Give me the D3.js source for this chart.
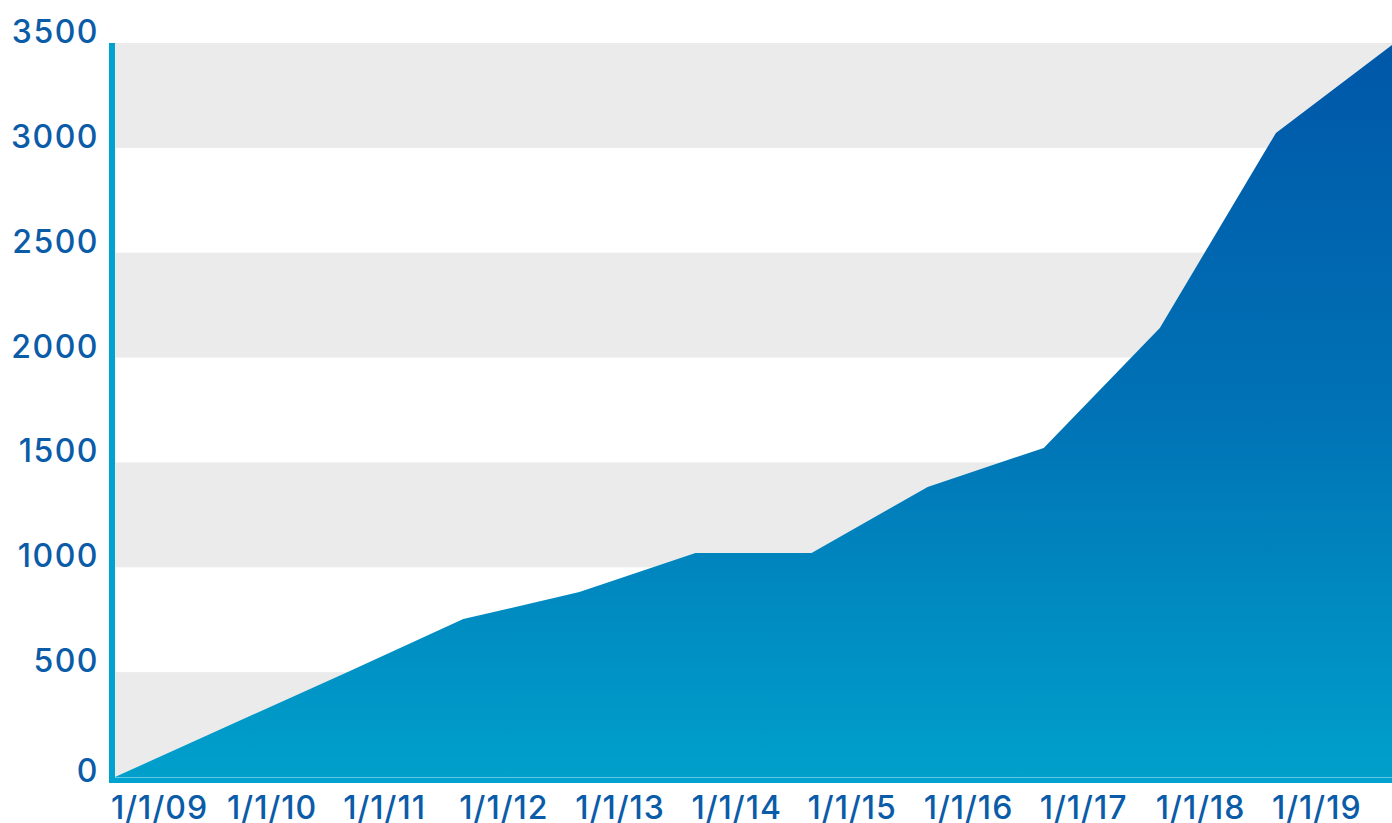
<!DOCTYPE html>
<html>
<head>
<meta charset="utf-8">
<script src="https://cdn.jsdelivr.net/npm/d3@7"></script>
<style>
  html, body { margin: 0; padding: 0; background: #fff; }
  svg { display: block; }
</style>
</head>
<body>
<script>
// data
const years = ["2009", "2010", "2011", "2012", "2013", "2014", "2015", "2016", "2017", "2018", "2019", "2020"];
const values = [0, 250, 500, 753, 882, 1068, 1068, 1383, 1569, 2141, 3071, 3490];
const xLabels = ["1/1/09", "1/1/10", "1/1/11", "1/1/12", "1/1/13", "1/1/14", "1/1/15", "1/1/16", "1/1/17", "1/1/18", "1/1/19"];
const yTicks = [0, 500, 1000, 1500, 2000, 2500, 3000, 3500];

const width = 1392;
const height = 823;
const marginTop = 43;
const marginRight = 0;
const marginBottom = 46;
const marginLeft = 115;

const labelColor = "#0b5ca8";
const axisColor = "#00a3cf";
const font = "Inter, 'Noto Sans', sans-serif";

const data = years.map((d, i) => ({ year: d, value: values[i] }));

const x = d3.scalePoint()
    .domain(years)
    .range([marginLeft, width - marginRight]);

const y = d3.scaleLinear()
    .domain([0, 3500])
    .range([height - marginBottom, marginTop]);

const svg = d3.select("body").append("svg")
    .attr("width", width)
    .attr("height", height)
    .attr("viewBox", [0, 0, width, height]);

// gradient for the area
const defs = svg.append("defs");
const grad = defs.append("linearGradient")
    .attr("id", "areaFill")
    .attr("gradientUnits", "userSpaceOnUse")
    .attr("x1", 0).attr("x2", 0)
    .attr("y1", y(3500)).attr("y2", y(0));
grad.append("stop").attr("offset", "0%").attr("stop-color", "#0057a8");
grad.append("stop").attr("offset", "50%").attr("stop-color", "#0072b5");
grad.append("stop").attr("offset", "100%").attr("stop-color", "#00a0cb");

// alternating bands, gray on the odd intervals
svg.append("g")
    .selectAll("rect")
    .data(d3.pairs(yTicks).filter((p, i) => i % 2 === 0))
    .join("rect")
    .attr("x", marginLeft)
    .attr("width", width - marginRight - marginLeft)
    .attr("y", d => y(d[1]))
    .attr("height", d => y(d[0]) - y(d[1]))
    .attr("fill", "#ebebeb");

// area
const area = d3.area()
    .x(d => x(d.year))
    .y0(y(0))
    .y1(d => y(d.value));

svg.append("path")
    .datum(data)
    .attr("fill", "url(#areaFill)")
    .attr("d", area);

// axis lines
svg.append("line")
    .attr("x1", marginLeft - 6)
    .attr("x2", width)
    .attr("y1", y(0) + 3)
    .attr("y2", y(0) + 3)
    .attr("stroke", axisColor)
    .attr("stroke-width", 6);

svg.append("line")
    .attr("x1", marginLeft)
    .attr("x2", width)
    .attr("y1", y(0) + 0.5)
    .attr("y2", y(0) + 0.5)
    .attr("stroke", "#62c6e4")
    .attr("stroke-width", 1);

svg.append("line")
    .attr("x1", marginLeft - 3)
    .attr("x2", marginLeft - 3)
    .attr("y1", y(3500))
    .attr("y2", y(0) + 6)
    .attr("stroke", axisColor)
    .attr("stroke-width", 6);

// y labels (the 0 sits a little lower, clear of the axis)
svg.append("g")
    .selectAll("text")
    .data(yTicks)
    .join("text")
    .attr("x", 99)
    .attr("y", d => y(d) + (d === 0 ? 5 : 0))
    .attr("text-anchor", "end")
    .attr("font-family", font)
    .attr("font-size", 32)
    .attr("font-weight", 500)
    .attr("letter-spacing", 1.5)
    .attr("fill", labelColor)
    .text(d => d);

// x labels, left aligned on each point
svg.append("g")
    .selectAll("text")
    .data(xLabels)
    .join("text")
    .attr("x", (d, i) => x(years[i]) - 4)
    .attr("y", 819)
    .attr("text-anchor", "start")
    .attr("font-family", font)
    .attr("font-size", 32)
    .attr("font-weight", 500)
    .attr("letter-spacing", 1)
    .attr("fill", labelColor)
    .text(d => d);
</script>
</body>
</html>
